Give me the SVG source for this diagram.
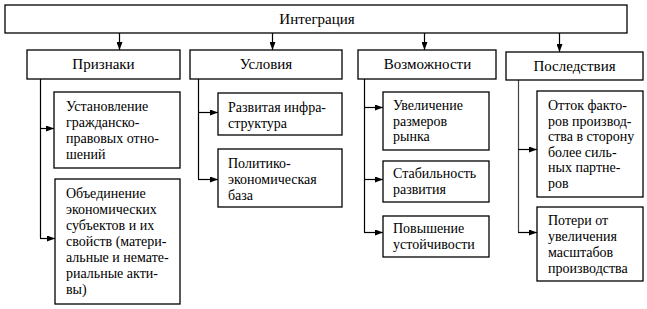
<svg xmlns="http://www.w3.org/2000/svg" width="647" height="309" viewBox="0 0 647 309">
<defs>
<marker id="ah" viewBox="0 0 8 6" refX="8" refY="3" markerWidth="8" markerHeight="6" markerUnits="userSpaceOnUse" orient="auto">
<path d="M0,0 L8,3 L0,6 Z" fill="#000"/>
</marker>
<style>
rect{fill:#fff;stroke:#000;stroke-width:1.3}
.c{text-anchor:middle;font-size:15px}
.ln{fill:none;stroke:#000;stroke-width:1.2}
.ar{marker-end:url(#ah)}
</style>
</defs>
<rect x="0" y="0" width="647" height="309" style="fill:#fff;stroke:none"/>
<g id="connectors">
<path class="ln ar" d="M119.5,33 V50"/>
<path class="ln ar" d="M272.5,33 V50"/>
<path class="ln ar" d="M424.5,33 V50"/>
<path class="ln ar" d="M559.5,33 V52"/>
<path class="ln" d="M40.5,79 V238"/>
<path class="ln ar" d="M40,128.5 H54"/>
<path class="ln ar" d="M40,238.5 H55"/>
<path class="ln" d="M198.5,79 V179"/>
<path class="ln ar" d="M198,112.5 H218"/>
<path class="ln ar" d="M198,179.5 H218"/>
<path class="ln" d="M364.5,79 V232"/>
<path class="ln ar" d="M364,107.5 H383"/>
<path class="ln ar" d="M364,179.5 H383"/>
<path class="ln ar" d="M364,232.5 H383"/>
<path class="ln" d="M518.5,80 V232" style="stroke:#444"/>
<path class="ln ar" d="M518,149.5 H537"/>
<path class="ln ar" d="M518,232.5 H537"/>
</g>
<g font-family="Liberation Serif, DejaVu Serif, serif" font-size="14" fill="#000">
<g id="integration">
<rect x="5" y="5" width="622" height="28"/>
<text class="c" x="317" y="24">Интеграция</text>
</g>
<g id="priznaki">
<rect x="27" y="50" width="153" height="29"/>
<text class="c" x="103.5" y="69">Признаки</text>
</g>
<g id="usloviya">
<rect x="190" y="50" width="152" height="29"/>
<text class="c" x="266" y="69">Условия</text>
</g>
<g id="vozmozhnosti">
<rect x="358" y="50" width="138" height="29"/>
<text class="c" x="427.5" y="69">Возможности</text>
</g>
<g id="posledstviya">
<rect x="506" y="52" width="137" height="28"/>
<text class="c" x="574.5" y="71">Последствия</text>
</g>
<g id="p1">
<rect x="54" y="92" width="126" height="76"/>
<text x="66" y="111">Установление</text>
<text x="66" y="127">гражданско-</text>
<text x="66" y="143">правовых отно-</text>
<text x="66" y="159">шений</text>
</g>
<g id="p2">
<rect x="55" y="179" width="125" height="125"/>
<text x="66" y="198">Объединение</text>
<text x="66" y="214">экономических</text>
<text x="66" y="230">субъектов и их</text>
<text x="66" y="246">свойств (матери-</text>
<text x="66" y="262">альные и немате-</text>
<text x="66" y="278">риальные акти-</text>
<text x="66" y="294">вы)</text>
</g>
<g id="u1">
<rect x="218" y="93" width="124" height="42"/>
<text x="228" y="112">Развитая инфра-</text>
<text x="228" y="128">структура</text>
</g>
<g id="u2">
<rect x="218" y="149" width="124" height="58"/>
<text x="228" y="168">Политико-</text>
<text x="228" y="184">экономическая</text>
<text x="228" y="200">база</text>
</g>
<g id="v1">
<rect x="383" y="92" width="106" height="58"/>
<text x="393" y="110">Увеличение</text>
<text x="393" y="126">размеров</text>
<text x="393" y="141">рынка</text>
</g>
<g id="v2">
<rect x="383" y="161" width="106" height="41"/>
<text x="393" y="178">Стабильность</text>
<text x="393" y="194">развития</text>
</g>
<g id="v3">
<rect x="383" y="216" width="106" height="41"/>
<text x="393" y="233">Повышение</text>
<text x="393" y="249">устойчивости</text>
</g>
<g id="s1">
<rect x="537" y="91" width="106" height="106"/>
<text x="548" y="110">Отток факто-</text>
<text x="548" y="126">ров производ-</text>
<text x="548" y="141">ства в сторону</text>
<text x="548" y="157">более силь-</text>
<text x="548" y="172">ных партне-</text>
<text x="548" y="188">ров</text>
</g>
<g id="s2">
<rect x="537" y="207" width="106" height="74"/>
<text x="548" y="225">Потери от</text>
<text x="548" y="241">увеличения</text>
<text x="548" y="257">масштабов</text>
<text x="548" y="273">производства</text>
</g>
</g>
</svg>
